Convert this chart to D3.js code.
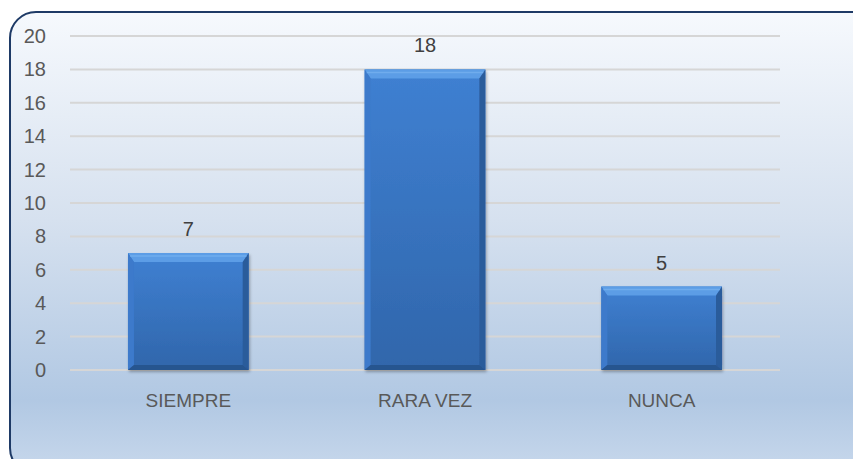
<!DOCTYPE html>
<html>
<head>
<meta charset="utf-8">
<script src="https://cdn.jsdelivr.net/npm/d3@7"></script>
<style>
  body { margin: 0; background: #fff; }
  svg text { font-family: "Liberation Sans", Arial, sans-serif; }
</style>
</head>
<body>
<svg id="chart" width="853" height="459"></svg>
<script>
var categories = ['SIEMPRE', 'RARA VEZ', 'NUNCA']
var values = [7, 18, 5]
var yTicks = [0, 2, 4, 6, 8, 10, 12, 14, 16, 18, 20]

var svg = d3.select('#chart')
var defs = svg.append('defs')

// background gradient of the chart area
var bg = defs.append('linearGradient').attr('id', 'bg').attr('x1', 0).attr('y1', 0).attr('x2', 0).attr('y2', 1)
bg.append('stop').attr('offset', '0%').attr('stop-color', '#f6f9fd')
bg.append('stop').attr('offset', '45%').attr('stop-color', '#d6e1ef')
bg.append('stop').attr('offset', '84%').attr('stop-color', '#b1c8e3')
bg.append('stop').attr('offset', '100%').attr('stop-color', '#c8d8ec')

var barGrad = defs.append('linearGradient').attr('id', 'barGrad').attr('x1', 0).attr('y1', 0).attr('x2', 0).attr('y2', 1)
barGrad.append('stop').attr('offset', '0%').attr('stop-color', '#3f80d2')
barGrad.append('stop').attr('offset', '100%').attr('stop-color', '#3066ab')

var shadow = defs.append('filter').attr('id', 'shadow').attr('x', '-10%').attr('y', '-10%').attr('width', '130%').attr('height', '130%')
shadow.append('feDropShadow').attr('dx', 1).attr('dy', 2).attr('stdDeviation', 1.5)
    .attr('flood-color', '#000').attr('flood-opacity', 0.3)

svg.append('rect')
    .attr('x', 10).attr('y', 12).attr('width', 870).attr('height', 462)
    .attr('rx', 26).attr('ry', 26)
    .attr('fill', 'url(#bg)')
    .attr('stroke', '#1e3a66').attr('stroke-width', 2)

var x = d3.scaleBand().domain(categories).range([70, 780]).paddingInner(0.49).paddingOuter(0.245)
var y = d3.scaleLinear().domain([0, 20]).range([370, 36])

// gridlines
svg.append('g').selectAll('line').data(yTicks).enter().append('line')
    .attr('x1', 70).attr('x2', 780)
    .attr('y1', d => y(d)).attr('y2', d => y(d))
    .attr('stroke', '#d6d6d6').attr('stroke-width', 2)

// y axis labels
var yAxis = d3.axisLeft(y).tickValues(yTicks).tickSize(0).tickPadding(0)
var gy = svg.append('g').attr('transform', 'translate(46,0)').call(yAxis)
gy.select('.domain').remove()
gy.selectAll('text').attr('font-size', 20).attr('fill', '#595959')
    .attr('font-family', '"Liberation Sans", Arial, sans-serif')

// x axis labels
var xAxis = d3.axisBottom(x).tickSize(0).tickPadding(0)
var gx = svg.append('g').attr('transform', 'translate(0,393)').call(xAxis)
gx.select('.domain').remove()
gx.selectAll('text').attr('font-size', 19).attr('fill', '#595959')
    .attr('font-family', '"Liberation Sans", Arial, sans-serif')
    .attr('dy', '0.75em')

// bars with bevel
var bars = svg.append('g').selectAll('g').data(values).enter().append('g')
    .attr('filter', 'url(#shadow)')

bars.append('rect')
    .attr('x', (d, i) => x(categories[i]))
    .attr('y', d => y(d))
    .attr('width', x.bandwidth())
    .attr('height', d => y(0) - y(d))
    .attr('fill', 'url(#barGrad)')

var bt = 9, bs = 6, bb = 5
function bevel(d, i, side) {
    var x0 = x(categories[i]), x1 = x0 + x.bandwidth()
    var y0 = y(d), y1 = y(0)
    if (side == 'top') return [[x0, y0], [x1, y0], [x1 - bs, y0 + bt], [x0 + bs, y0 + bt]]
    if (side == 'left') return [[x0, y0], [x0 + bs, y0 + bt], [x0 + bs, y1 - bb], [x0, y1]]
    if (side == 'right') return [[x1, y0], [x1 - bs, y0 + bt], [x1 - bs, y1 - bb], [x1, y1]]
    return [[x0, y1], [x0 + bs, y1 - bb], [x1 - bs, y1 - bb], [x1, y1]]
}
var bevelColor = { top: '#5b9de6', left: '#3c7acb', right: '#2b5b9b', bottom: '#28548f' }
;['top', 'left', 'right', 'bottom'].forEach(function (side) {
    bars.append('polygon')
        .attr('points', (d, i) => bevel(d, i, side).map(p => p.join(',')).join(' '))
        .attr('fill', bevelColor[side])
})
bars.append('line')
    .attr('x1', (d, i) => x(categories[i]) + 2).attr('x2', (d, i) => x(categories[i]) + x.bandwidth() - 2)
    .attr('y1', d => y(d) + 3).attr('y2', d => y(d) + 3)
    .attr('stroke', '#7ab3f0').attr('stroke-width', 1.5).attr('opacity', 0.7)

// data labels
svg.append('g').selectAll('text').data(values).enter().append('text')
    .attr('x', (d, i) => x(categories[i]) + x.bandwidth() / 2)
    .attr('y', d => y(d) - 17)
    .attr('text-anchor', 'middle')
    .attr('font-size', 20)
    .attr('fill', '#404040')
    .text(d => d)
</script>
</body>
</html>
